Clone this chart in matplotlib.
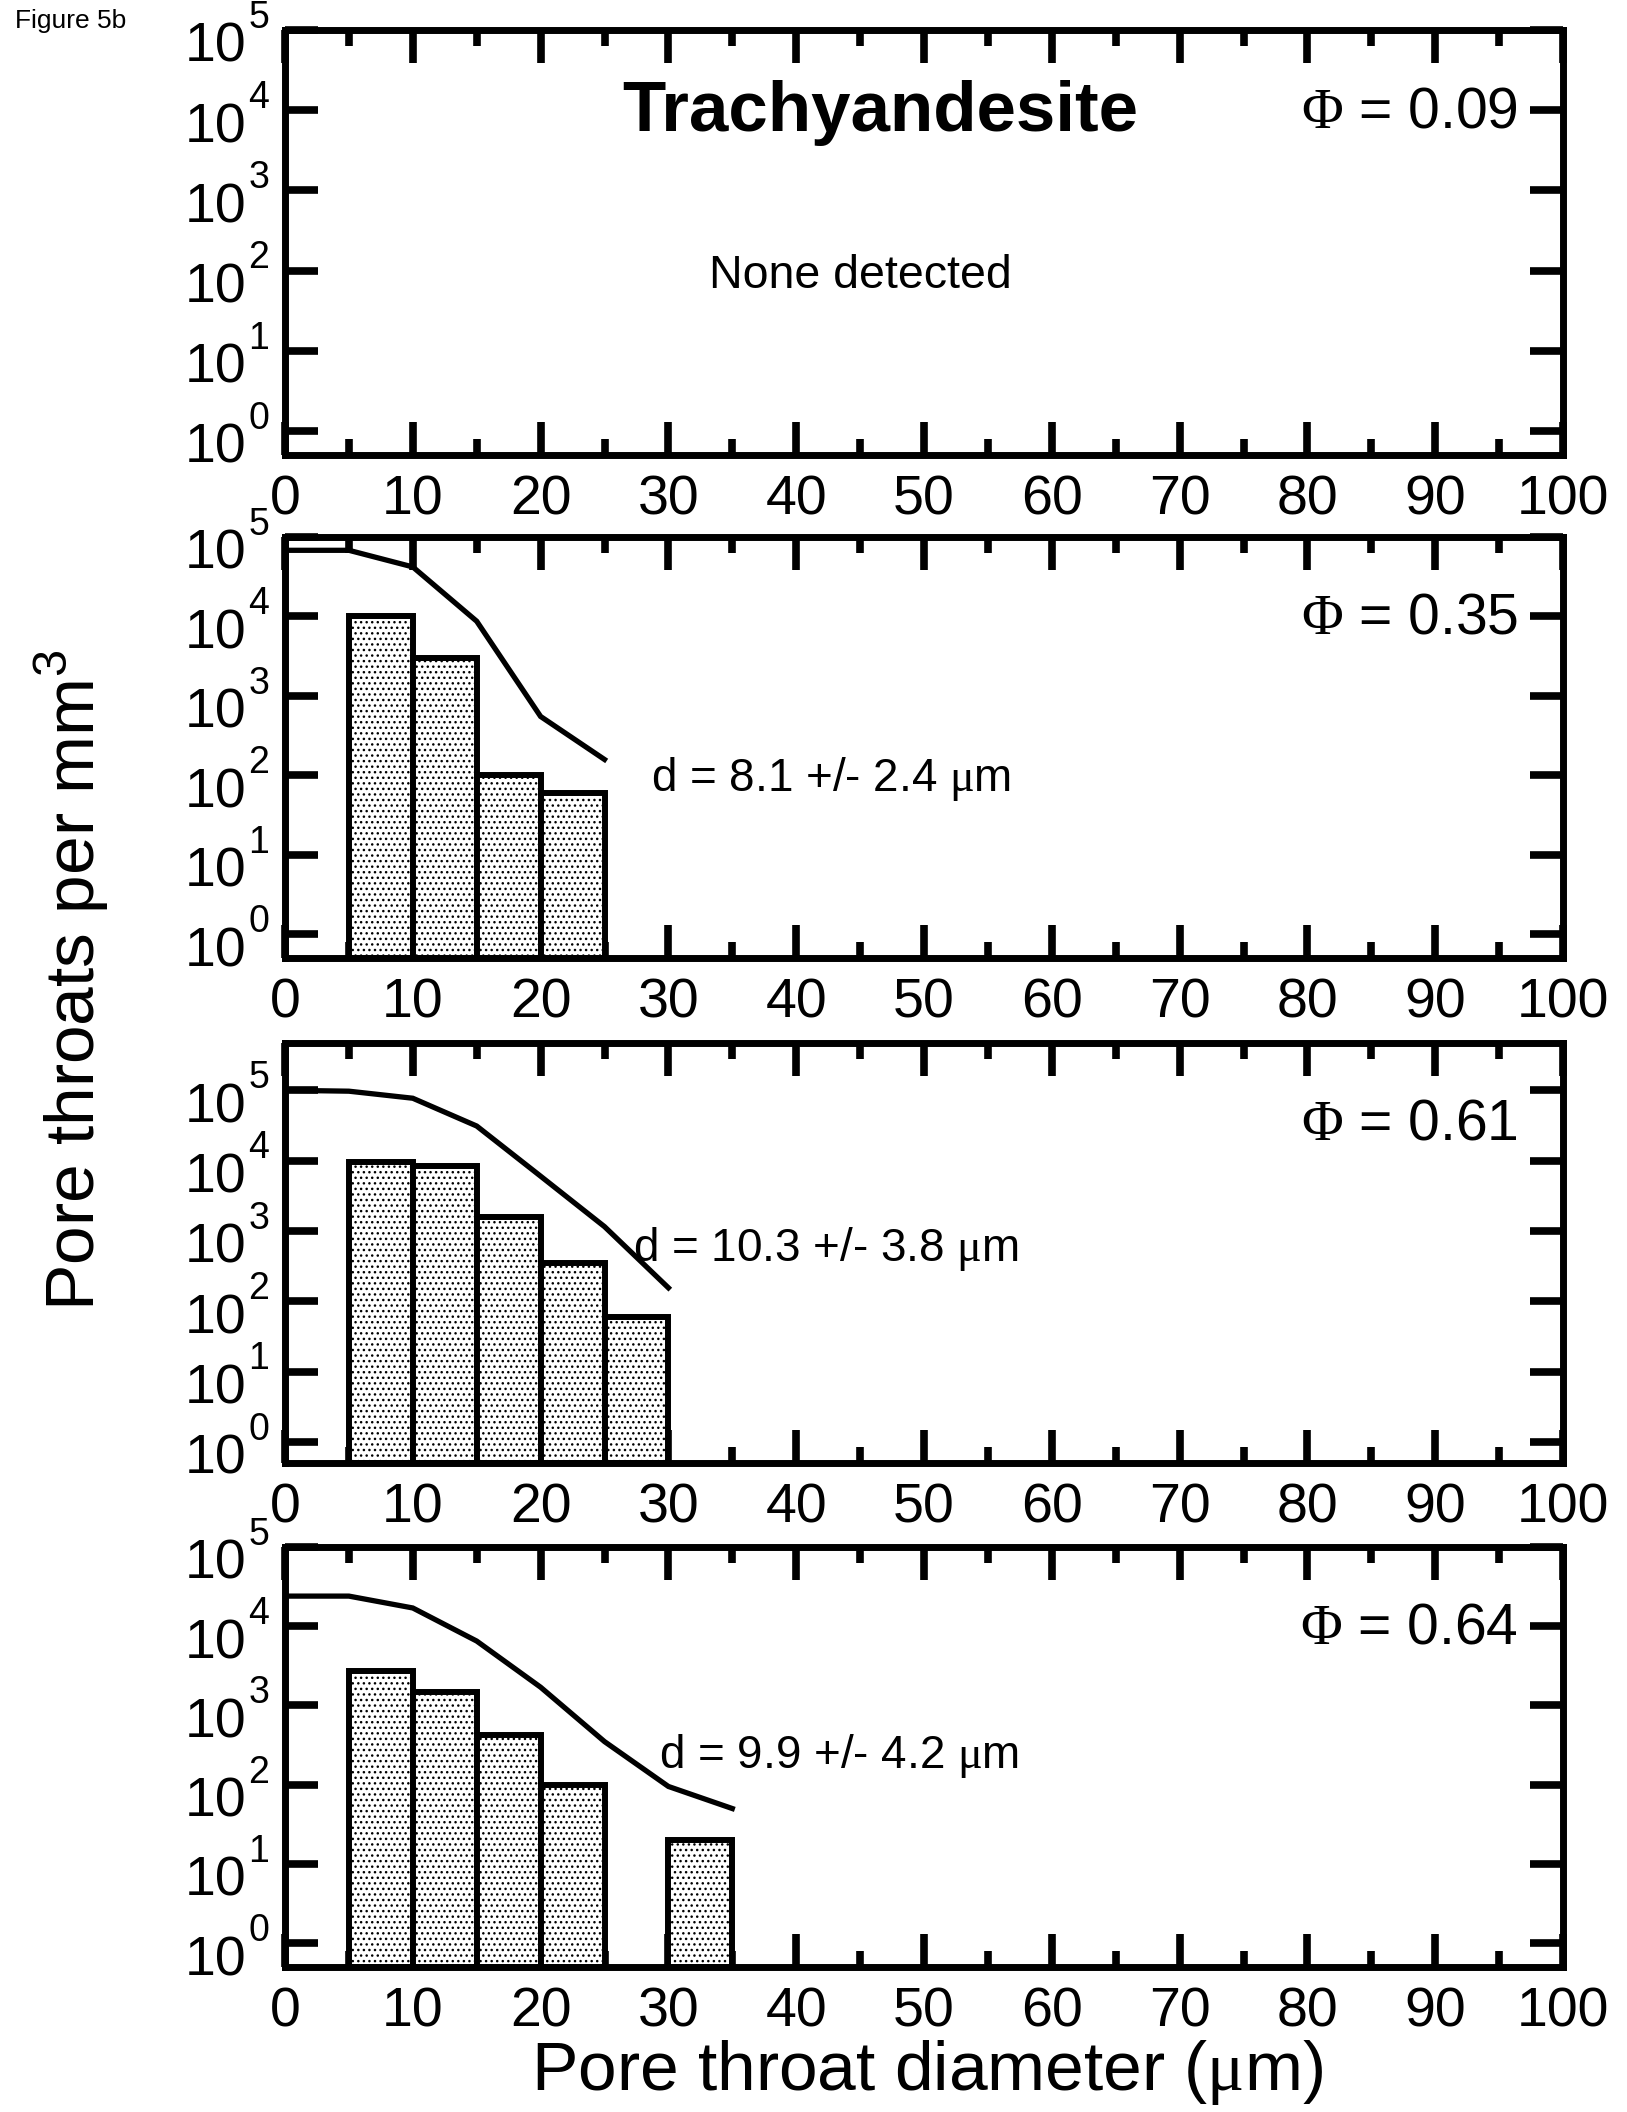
import matplotlib
matplotlib.use("Agg")
import matplotlib.pyplot as plt
from matplotlib.ticker import NullLocator

plt.rcParams['font.family'] = ['Liberation Sans', 'DejaVu Sans']
plt.rcParams['mathtext.fontset'] = 'custom'
plt.rcParams['mathtext.rm'] = 'Liberation Serif'
plt.rcParams['mathtext.sf'] = 'Liberation Sans'
plt.rcParams['hatch.linewidth'] = 1.0

# porosity of each panel
porosity = ['0.09', '0.35', '0.61', '0.64']

# histogram bins (left edge, 5 um wide) and counts per mm^3
bins_035 = [5, 10, 15, 20]
bars_035 = [1.0e4, 3.0e3, 100, 59]
bins_061 = [5, 10, 15, 20, 25]
bars_061 = [9.4e3, 8.3e3, 1.6e3, 355, 60]
bins_064 = [5, 10, 15, 20, 30]
bars_064 = [2.7e3, 1.5e3, 420, 100, 20]

# cumulative curves
cum_x_035 = [0, 5, 10, 15, 20, 25]
cum_035 = [6.8e4, 6.8e4, 4.2e4, 8.7e3, 550, 158]
cum_x_061 = [0, 5, 10, 15, 20, 25, 30]
cum_061 = [1.0e5, 0.97e5, 7.7e4, 3.1e4, 6.0e3, 1.15e3, 155]
cum_x_064 = [0, 5, 10, 15, 20, 25, 30, 35]
cum_064 = [2.4e4, 2.4e4, 1.7e4, 6.5e3, 1.7e3, 350, 95, 50]

mu = r'$\mathrm{\mu}$'
mean_text = [None, 'd = 8.1 +/- 2.4 ' + mu + 'm', 'd = 10.3 +/- 3.8 ' + mu + 'm',
             'd = 9.9 +/- 4.2 ' + mu + 'm']
mean_pos = [None, (28.6, 63), (27.2, 370), (29.3, 162)]

ymin = 0.5
ymax = [1e5, 1e5, 4.7e5, 1e5]

W, H = 1627, 2112
fig = plt.figure(figsize=(W / 100, H / 100), dpi=100)

# panel frames in pixels (top, bottom)
frames = [(30, 455), (537, 958), (1043, 1463), (1547, 1967)]
left_px, right_px = 285, 1563

panel_bins = [[], bins_035, bins_061, bins_064]
panel_bars = [[], bars_035, bars_061, bars_064]
panel_cx = [[], cum_x_035, cum_x_061, cum_x_064]
panel_cy = [[], cum_035, cum_061, cum_064]

for i in range(4):
    top, bot = frames[i]
    ax = fig.add_axes([left_px / W, 1 - bot / H, (right_px - left_px) / W, (bot - top) / H])
    ax.set_yscale('log')
    ax.set_xlim(0, 100)
    ax.set_ylim(ymin, ymax[i])

    if panel_bins[i]:
        hts = [v - ymin for v in panel_bars[i]]
        ax.bar(panel_bins[i], hts, width=5, align='edge', bottom=ymin,
               facecolor='white', edgecolor='black', linewidth=4.3,
               hatch='...', zorder=2)
        ax.plot(panel_cx[i], panel_cy[i], color='black', lw=3.8,
                solid_joinstyle='miter', zorder=3)
        ax.text(mean_pos[i][0], mean_pos[i][1], mean_text[i], fontsize=33,
                ha='left', va='baseline')

    for s in ax.spines.values():
        s.set_linewidth(5)
        s.set_zorder(5)

    ax.set_xticks(range(0, 101, 10))
    ax.set_xticks(range(5, 100, 10), minor=True)
    decades = [10 ** k for k in range(0, 6)]
    ax.set_yticks(decades)
    ax.yaxis.set_minor_locator(NullLocator())
    ax.tick_params(axis='both', which='major', direction='in', length=24, width=5.5,
                   top=True, right=True, labelsize=40, labelleft=False, pad=14)
    ax.tick_params(axis='x', which='minor', direction='in', length=11.5, width=5.5,
                   top=True, bottom=True)

    # y tick labels as 10 with raised exponent
    for k in range(0, 6):
        ax.annotate('10', xy=(0, 10 ** k), xycoords=ax.get_yaxis_transform(),
                    xytext=(-27.5, -23), textcoords='offset points',
                    ha='right', va='baseline', fontsize=40, annotation_clip=False)
        ax.annotate(str(k), xy=(0, 10 ** k), xycoords=ax.get_yaxis_transform(),
                    xytext=(-26.5, 1.5), textcoords='offset points',
                    ha='left', va='baseline', fontsize=27, annotation_clip=False)

    ax.text(0.965, 0.77, r'$\Phi$ = ' + porosity[i], transform=ax.transAxes,
            fontsize=41, ha='right', va='baseline')

    if i == 0:
        ax.text(0.466, 0.762, 'Trachyandesite', transform=ax.transAxes,
                fontsize=51, fontweight='bold', ha='center', va='baseline')
        ax.text(0.45, 0.393, 'None detected', transform=ax.transAxes,
                fontsize=33.5, ha='center', va='baseline')

fig.text(15 / W, 1 - 28 / H, 'Figure 5b', fontsize=19, ha='left', va='baseline')
fig.text(72 / W, 0.536, r'Pore throats per mm$^\mathsf{3}$', fontsize=50,
         rotation=90, ha='center', va='center')
fig.text(927 / W, 0.0105, 'Pore throat diameter (' + mu + 'm)', fontsize=50,
         ha='center', va='baseline')

fig.savefig('out.png', dpi=100)
